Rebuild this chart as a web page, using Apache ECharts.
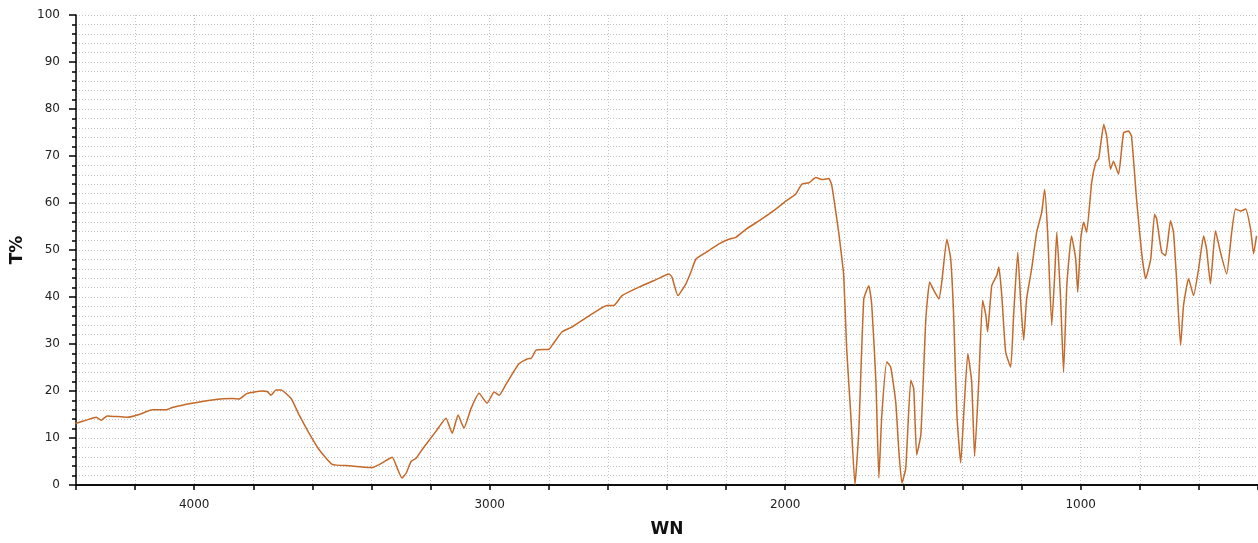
<!DOCTYPE html>
<html>
<head>
<meta charset="utf-8">
<script src="https://cdn.jsdelivr.net/npm/echarts@6/dist/echarts.min.js"></script>
<style>
html,body{margin:0;padding:0;background:#fff;}
#chart{width:1258px;height:543px;}
</style>
</head>
<body>
<div id="chart"></div>
<script>
const wavenumber = [
4402,4365,4331,4315,4294,4227,4186,4142,4095,4074,4007,3939,3871,3848,3821,3770,3753,3740,3723,3706,
3672,3645,3611,3577,3533,3476,3442,3398,3364,3330,3313,3297,3283,3266,3249,3229,3182,3148,3127,3107,
3087,3063,3036,3009,2985,2968,2945,2901,2867,2860,2843,2799,2789,2755,2722,2654,2603,2580,2552,2495,
2437,2393,2383,2363,2336,2319,2302,2268,2224,2191,2167,2133,2079,2032,1998,1964,1944,1920,1896,1876,
1852,1842,1819,1812,1802,1792,1778,1764,1751,1734,1717,1707,1693,1683,1673,1656,1643,1626,1616,1605,
1592,1575,1565,1555,1541,1524,1511,1497,1480,1470,1453,1440,1430,1419,1406,1396,1382,1369,1359,1345,
1332,1321,1315,1301,1284,1277,1267,1254,1237,1227,1213,1203,1193,1183,1166,1149,1132,1122,1112,1098,
1088,1081,1068,1058,1047,1031,1017,1010,1000,990,980,963,949,939,922,912,899,889,872,855,
838,828,811,794,780,763,750,743,726,713,696,686,675,662,652,635,618,601,584,574,
561,544,527,506,489,476,459,442,425,415,405
];
const transmittance = [
13.1,13.8,14.4,13.8,14.7,14.4,15.0,16.0,16.0,16.5,17.4,18.1,18.4,18.3,19.5,20.0,19.9,19.1,20.2,20.2,
18.4,14.9,11.0,7.5,4.4,4.1,3.9,3.7,4.7,5.9,3.6,1.5,2.5,5.0,5.7,7.5,11.4,14.2,11.0,14.9,
12.1,16.3,19.5,17.4,19.8,19.1,21.4,25.8,26.9,26.9,28.7,28.9,29.7,32.6,33.6,36.4,38.2,38.2,40.3,42.1,
43.7,44.9,44.2,40.3,42.8,45.3,48.1,49.5,51.3,52.3,52.7,54.4,56.6,58.7,60.4,61.9,64.0,64.3,65.4,65.0,
65.2,63.6,53.8,50.2,44.6,29.0,14.9,0.1,11.4,39.6,42.4,38.2,22.0,1.5,14.9,26.2,25.1,17.7,7.8,0.4,
3.6,22.3,20.5,6.4,10.7,35.4,43.2,41.4,39.6,43.2,52.3,48.1,36.1,14.9,4.7,14.9,28.0,22.0,6.1,22.0,
39.3,36.1,32.6,42.4,44.6,46.4,40.3,28.3,25.1,36.1,49.5,38.9,30.8,39.6,46.0,53.8,58.0,62.9,53.8,34.0,
44.6,53.8,39.6,24.0,42.4,53.0,48.1,41.0,52.3,55.9,53.8,64.3,68.6,69.5,76.7,74.2,67.2,68.9,66.1,74.9,
75.3,74.2,60.8,49.5,43.9,48.1,57.6,56.6,49.5,48.8,56.2,53.8,43.2,29.7,38.2,43.9,40.3,46.0,53.0,50.2,
42.8,54.1,49.5,44.9,53.8,58.7,58.3,58.7,54.4,49.2,53.0
];
const xLabelValues = [1000, 2000, 3000, 4000];
const yLabelValues = [0, 10, 20, 30, 40, 50, 60, 70, 80, 90, 100];

const points = wavenumber.map((w, i) => [w, transmittance[i]]);
const chart = echarts.init(document.getElementById('chart'), null, {renderer: 'canvas'});
const gridLine = {show: true, lineStyle: {color: '#c4c4c4', type: [1, 2], width: 1}};
chart.setOption({
  animation: false,
  backgroundColor: '#ffffff',
  grid: {left: 76, right: -2, top: 15, bottom: 56, containLabel: false},
  xAxis: [{
    type: 'value', inverse: true, min: 400, max: 4400, interval: 200,
    name: 'WN', nameLocation: 'middle', nameGap: 36,
    nameTextStyle: {fontFamily: 'DejaVu Sans', fontWeight: 'bold', fontSize: 17, color: '#111'},
    axisLine: {show: true, onZero: false, lineStyle: {color: '#000', width: 1.5}},
    axisTick: {show: true, length: 5, lineStyle: {color: '#000', width: 1.5}},
    axisLabel: {show: true, customValues: xLabelValues, margin: 14, fontFamily: 'DejaVu Sans', fontSize: 12, color: '#222',
      formatter: v => String(v)},
    splitLine: gridLine
  }, {
    type: 'value', position: 'top', inverse: true, min: 400, max: 4400,
    axisLine: {show: true, lineStyle: {color: '#000', width: 1.5}},
    axisTick: {show: false}, axisLabel: {show: false}, splitLine: {show: false}
  }],
  yAxis: {
    type: 'value', min: 0, max: 100, interval: 10,
    name: 'T%', nameLocation: 'middle', nameGap: 50, nameRotate: 90,
    nameTextStyle: {fontFamily: 'DejaVu Sans', fontWeight: 'bold', fontSize: 17, color: '#111'},
    axisLine: {show: true, onZero: false, lineStyle: {color: '#000', width: 1.5}},
    axisTick: {show: true, length: 7, lineStyle: {color: '#000', width: 1.5}},
    minorTick: {show: true, splitNumber: 5, length: 4, lineStyle: {color: '#000', width: 1.5}},
    axisLabel: {show: true, customValues: yLabelValues, margin: 16, fontFamily: 'DejaVu Sans', fontSize: 12, color: '#222',
      formatter: v => String(v)},
    splitLine: gridLine,
    minorSplitLine: gridLine
  },
  series: [{
    type: 'line', xAxisIndex: 0, data: points, showSymbol: false, symbol: 'none',
    smooth: 0.15, lineStyle: {color: '#c4692a', width: 1.5}
  }]
});
</script>
</body>
</html>
